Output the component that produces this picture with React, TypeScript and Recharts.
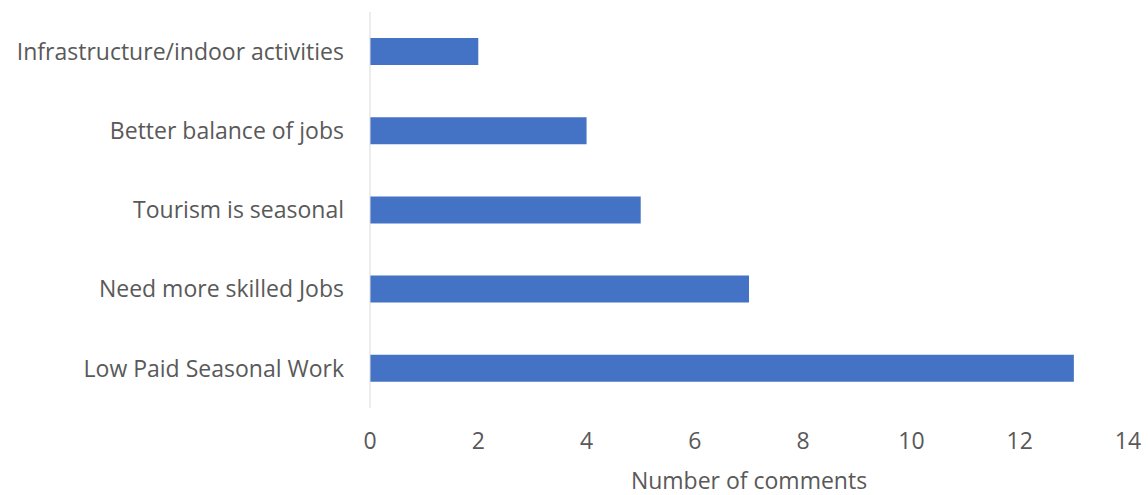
import { BarChart, Bar, XAxis, YAxis } from "recharts";

const categories = [
  "Infrastructure/indoor activities",
  "Better balance of jobs",
  "Tourism is seasonal",
  "Need more skilled Jobs",
  "Low Paid Seasonal Work",
];
const comments = [2, 4, 5, 7, 13];
const xTicks = [0, 2, 4, 6, 8, 10, 12, 14];

const FONT = "'Open Sans', sans-serif";
const TEXT = "#595959";
const SIZE = 23;

export default function App() {
  const data = categories.map((name, i) => ({ name, value: comments[i] }));

  return (
    <div style={{ position: "fixed", left: 0, top: 0, background: "#fff" }}>
      <BarChart
        width={1148}
        height={495}
        data={data}
        layout="vertical"
        margin={{ top: 12, right: 20, bottom: 0, left: 0 }}
      >
        <XAxis
          type="number"
          domain={[0, 14]}
          ticks={xTicks}
          axisLine={false}
          tickLine={false}
          tickSize={0}
          tickMargin={25}
          height={87}
          tick={{ fill: TEXT, fontSize: SIZE, fontFamily: FONT }}
          label={{
            value: "Number of comments",
            position: "insideBottom",
            offset: 6,
            fill: TEXT,
            fontSize: SIZE,
            fontFamily: FONT,
          }}
        />
        <YAxis
          type="category"
          dataKey="name"
          width={370}
          axisLine={{ stroke: "#d9d9d9" }}
          tickLine={false}
          tickSize={0}
          tickMargin={26}
          tick={{ fill: TEXT, fontSize: SIZE, fontFamily: FONT }}
        />
        <Bar dataKey="value" fill="#4472c4" barSize={27} isAnimationActive={false} />
      </BarChart>
    </div>
  );
}
